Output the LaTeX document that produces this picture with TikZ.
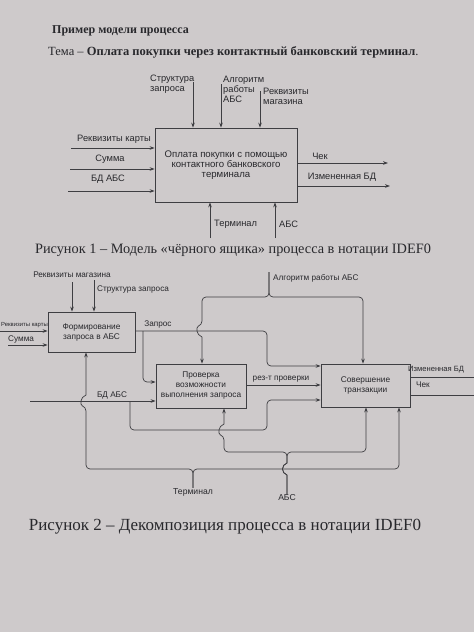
\documentclass[tikz,border=0pt]{standalone}
\usepackage{fontspec}
\setmainfont{Liberation Serif}
\setsansfont{Liberation Sans}
\usetikzlibrary{arrows.meta,calc}
\definecolor{paper}{RGB}{206,202,203}
\definecolor{ink}{RGB}{40,40,44}
\definecolor{wirec}{RGB}{62,62,66}
\begin{document}
\begin{tikzpicture}[x=1pt,y=-1pt,
  box/.style={draw=wirec, line width=0.8pt, inner sep=0pt, align=center, font=\sffamily\fontsize{8.3}{10}\selectfont, text=ink},
  wire/.style={draw=wirec, line width=0.7pt},
  arr/.style={wire, -{Stealth[length=5pt,width=3.6pt]}},
  lab1/.style={font=\sffamily\fontsize{9.3}{10}\selectfont, text=ink, inner sep=0pt, align=left},
  lab2/.style={font=\sffamily\fontsize{8.2}{9.5}\selectfont, text=ink, inner sep=0pt, align=left},
  rc/.style={rounded corners=4pt}]
\useasboundingbox (0,0) rectangle (474,632);
\fill[paper] (0,0) rectangle (474,632);

% ---------- heading ----------
\node[font=\bfseries\fontsize{12}{14}\selectfont, text=ink, anchor=west, inner sep=0pt] (title) at (52,31) {Пример модели процесса};
\node[font=\fontsize{12.5}{14}\selectfont, text=ink, anchor=west, inner sep=0pt] (theme) at (48,52) {Тема – \textbf{Оплата покупки через контактный банковский терминал}.};

% ---------- figure 1 ----------
\node[box, minimum width=142pt, minimum height=74pt, font=\sffamily\fontsize{9.6}{10}\selectfont] (fA) at (226,165) {Оплата покупки с помощью\\контактного банковского\\терминала};

\coordinate (c1) at (193,82);
\coordinate (c2) at (221,84);
\coordinate (c3) at (260,91);
\draw[arr] (c1) -- (c1 |- fA.north);
\draw[arr] (c2) -- (c2 |- fA.north);
\draw[arr] (c3) -- (c3 |- fA.north);
\node[lab1, anchor=west] (lc1) at (150,84) {Структура\\запроса};
\node[lab1, anchor=west] (lc2) at (223,89) {Алгоритм\\работы\\АБС};
\node[lab1, anchor=west] (lc3) at (263,96) {Реквизиты\\магазина};

\coordinate (i1) at (71,148);
\coordinate (i2) at (70,169);
\coordinate (i3) at (68,191);
\draw[arr] (i1) -- (i1 -| fA.west);
\draw[arr] (i2) -- (i2 -| fA.west);
\draw[arr] (i3) -- (i3 -| fA.west);
\node[lab1] (li1) at (114,139) {Реквизиты карты};
\node[lab1] (li2) at (110,159) {Сумма};
\node[lab1] (li3) at (108,179) {БД АБС};

\coordinate (o1) at (388,163);
\coordinate (o2) at (390,186);
\draw[arr] (o1 -| fA.east) -- (o1);
\draw[arr] (o2 -| fA.east) -- (o2);
\node[lab1] (lo1) at (320,156) {Чек};
\node[lab1] (lo2) at (342,177) {Измененная БД};

\coordinate (m1) at (210,238);
\coordinate (m2) at (275,238);
\draw[arr] (m1) -- (m1 |- fA.south);
\draw[arr] (m2) -- (m2 |- fA.south);
\node[lab1, anchor=west] (lm1) at (214,224) {Терминал};
\node[lab1, anchor=west] (lm2) at (279,224) {АБС};

\node[font=\fontsize{14.3}{17}\selectfont, text=ink, inner sep=0pt] (cap1) at (233,250) {Рисунок 1 – Модель «чёрного ящика» процесса в нотации IDEF0};

% ---------- figure 2 ----------
\node[box, minimum width=87pt, minimum height=40pt] (B1) at (91.5,332) {Формирование\\запроса в АБС};
\node[box, minimum width=90pt, minimum height=44pt] (B2) at (201,386) {Проверка\\возможности\\выполнения запроса};
\node[box, minimum width=89pt, minimum height=43pt] (B3) at (365.5,385.5) {Совершение\\транзакции};

% controls of B1
\coordinate (rm) at (72,282);
\coordinate (sz) at (94,280);
\draw[arr] (rm) -- (rm |- B1.north);
\draw[arr] (sz) -- (sz |- B1.north);
\node[lab2, anchor=south] (lrm) at (72,278) {Реквизиты магазина};
\node[lab2, anchor=west] (lsz) at (97,289) {Структура запроса};

% inputs of B1
\coordinate (rk) at (-2,331);
\coordinate (sm) at (8,345);
\draw[arr] (rk) -- (rk -| B1.west);
\draw[arr] (sm) -- (sm -| B1.west);
\node[lab2, font=\sffamily\fontsize{5.9}{8}\selectfont, anchor=south west] (lrk) at (1,328) {Реквизиты карты};
\node[lab2, anchor=south west] (lsm) at (8,343) {Сумма};

% Запрос
\coordinate (zy) at (0,331);
\coordinate (zb3) at (0,366);
\coordinate (zb2) at (0,382);
\coordinate (zj) at (143,331);
\draw[arr, rc] (B1.east |- zy) -- (267,331) -- (267,366) -- (B3.west |- zb3);
\draw[arr, rc] (zj) -- (143,382) -- (B2.west |- zb2);
\node[lab2] (lzq) at (158,324) {Запрос};

% Алгоритм работы АБС
\coordinate (alg) at (269,272);
\coordinate (algR) at (363,0);
\coordinate (algL) at (202,0);
\node[lab2, anchor=west] (lalg) at (273,278) {Алгоритм работы АБС};
\draw[arr, rc] (alg) -- (269,297) -- (363,297) -- (algR |- B3.north);
\draw[arr] [rounded corners=4pt] (alg) -- (269,297) -- (202,297) -- (202,325) [sharp corners]
  .. controls (196,327) and (196,335) .. (202,337) -- (algL |- B2.north);

% рез-т проверки
\coordinate (rz) at (0,385);
\draw[arr] (B2.east |- rz) -- (B3.west |- rz);
\node[lab2] (lrz) at (281,379) {рез-т проверки};

% БД АБС
\coordinate (bd) at (30,401);
\coordinate (bdj) at (130,401);
\coordinate (bb3) at (0,400);
\draw[arr] (bd) -- (bd -| B2.west);
\draw[arr, rc] (bdj) -- (130,430) -- (267,430) -- (267,400) -- (B3.west |- bb3);
\node[lab2] (lbd) at (112,395) {БД АБС};

% Терминал
\node[lab2, font=\sffamily\fontsize{8.6}{9}\selectfont] (lterm) at (193,492) {Терминал};
\coordinate (tj) at (193,469);
\coordinate (tL) at (86,0);
\coordinate (tR) at (399,0);
\draw[arr] [rounded corners=4pt] (lterm.north) -- (tj) -- (86,469) -- (86,407) [sharp corners]
  .. controls (80,405) and (80,397) .. (86,395) -- (tL |- B1.south);
\draw[arr, rc] (lterm.north) -- (tj) -- (399,469) -- (tR |- B3.south);

% АБС
\node[lab2, font=\sffamily\fontsize{8.6}{9}\selectfont] (labs) at (287,498) {АБС};
\coordinate (aL) at (224,0);
\coordinate (aR) at (366,0);
\draw[arr] (labs.north) -- (287,475) .. controls (281,473) and (281,465) .. (287,463)
  [rounded corners=4pt] -- (287,452) -- (366,452) -- (aR |- B3.south);
\draw[arr] (labs.north) -- (287,475) .. controls (281,473) and (281,465) .. (287,463)
  [rounded corners=4pt] -- (287,452) -- (224,452) -- (224,436) [sharp corners]
  .. controls (218,434) and (218,426) .. (224,424) -- (aL |- B2.south);

% outputs of B3
\coordinate (ob1) at (476,377);
\coordinate (ob2) at (476,395);
\draw[wire] (B3.east |- ob1) -- (ob1);
\draw[wire] (B3.east |- ob2) -- (ob2);
\node[lab2, font=\sffamily\fontsize{7.6}{9}\selectfont, anchor=south west] (lob1) at (408,373) {Измененная БД};
\node[lab2, anchor=west] (lob2) at (416,385) {Чек};

\node[font=\fontsize{17}{20}\selectfont, text=ink, inner sep=0pt] (cap2) at (225,527) {Рисунок 2 – Декомпозиция процесса в нотации IDEF0};
\end{tikzpicture}
\end{document}
